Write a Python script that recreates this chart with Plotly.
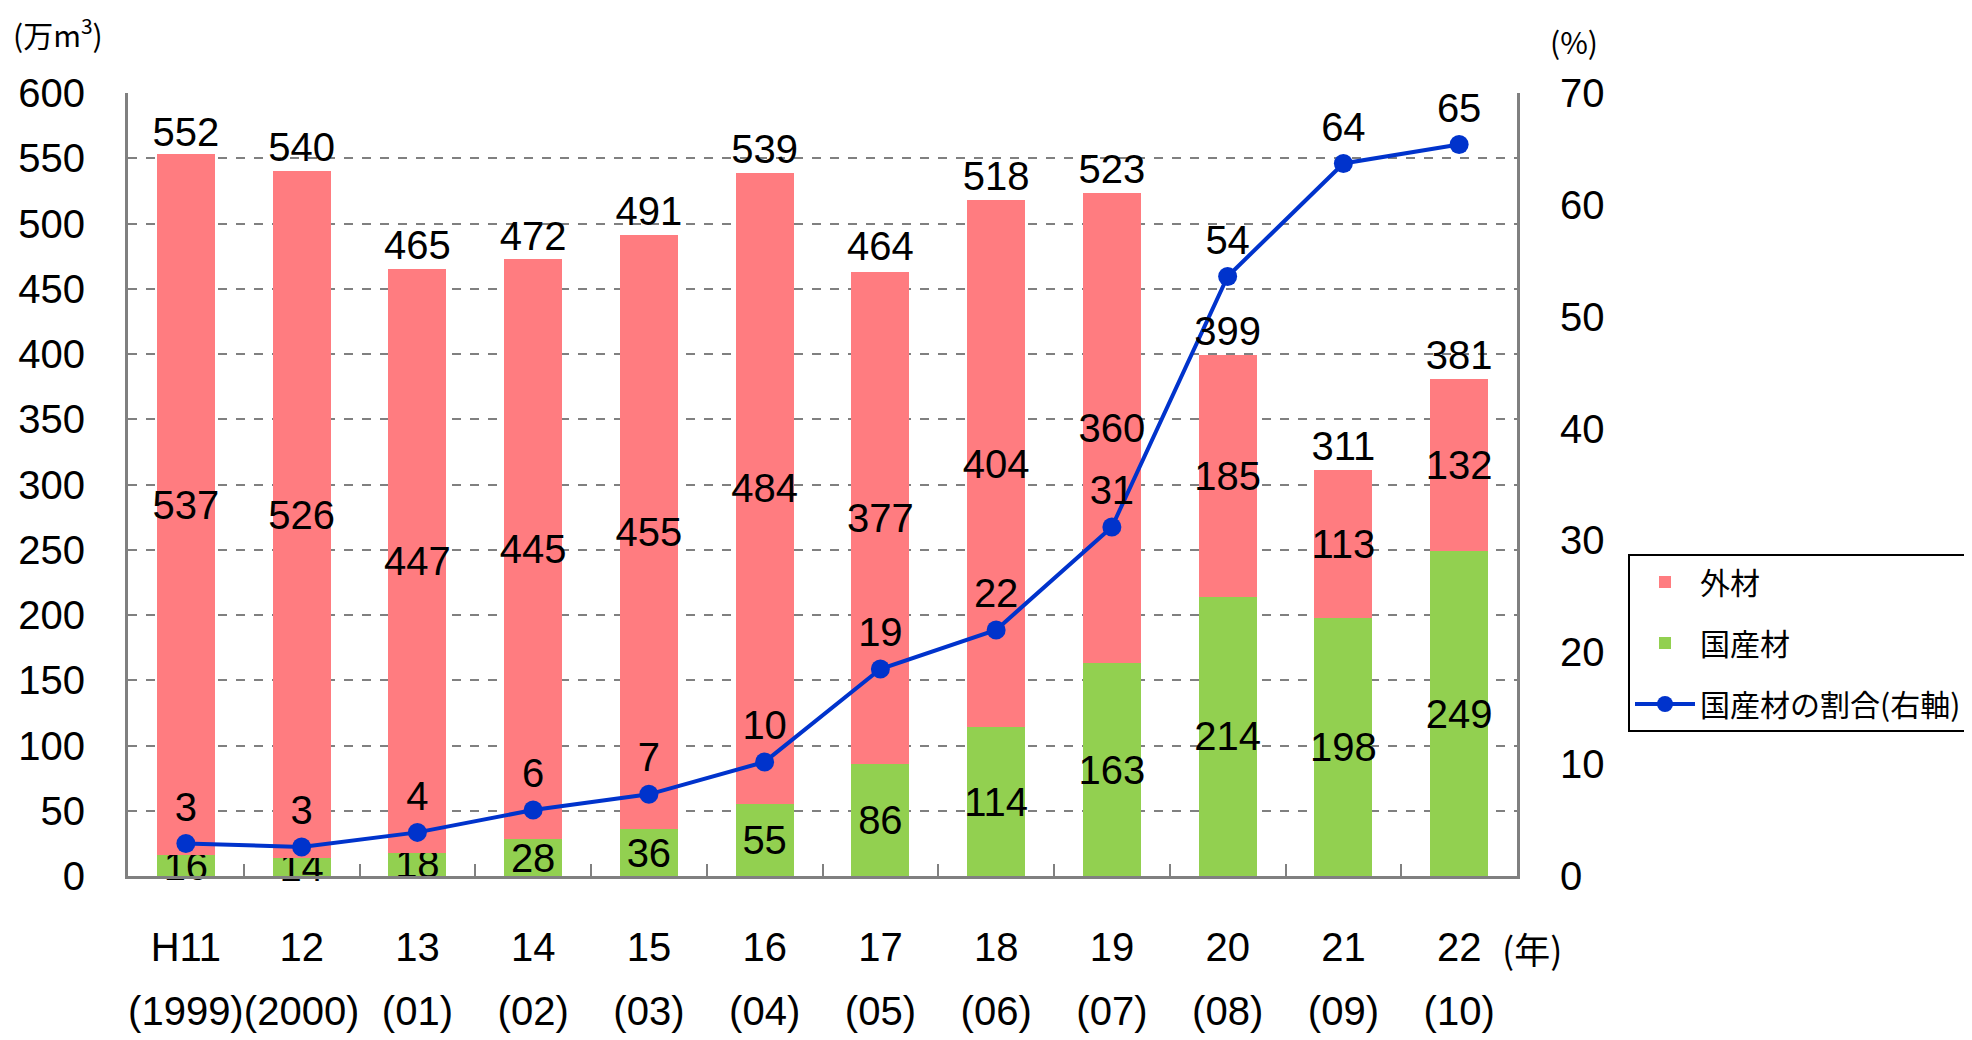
import plotly.graph_objects as go

# ---- data ----
years = ["H11", "12", "13", "14", "15", "16", "17", "18", "19", "20", "21", "22"]
years_west = ["(1999)", "(2000)", "(01)", "(02)", "(03)", "(04)",
              "(05)", "(06)", "(07)", "(08)", "(09)", "(10)"]
domestic = [16, 14, 18, 28, 36, 55, 86, 114, 163, 214, 198, 249]          # 国産材
foreign = [537, 526, 447, 445, 455, 484, 377, 404, 360, 185, 113, 132]    # 外材
totals = [552, 540, 465, 472, 491, 539, 464, 518, 523, 399, 311, 381]
ratio = [2.9, 2.6, 3.9, 5.9, 7.3, 10.2, 18.5, 22.0, 31.2, 53.6, 63.7, 65.4]  # 国産材の割合(%)
ratio_labels = ["3", "3", "4", "6", "7", "10", "19", "22", "31", "54", "64", "65"]

NUM_FONT = "Liberation Sans Narrow, Arial Narrow, Liberation Sans, Arial, sans-serif"
CJK_FONT = "Noto Sans CJK JP, Noto Sans CJK SC, sans-serif"
RED = "#FF7C80"
GREEN = "#92D050"
BLUE = "#0033CC"
GRAY = "#808080"
FS = 40

W, H = 1972, 1040
L, R, T, B = 120, 1509, 85, 868

fig = go.Figure()

fig.add_trace(go.Bar(
    x=years, y=domestic, name="国産材", marker=dict(color=GREEN, line=dict(width=0)),
    text=[str(v) for v in domestic], textposition="inside", insidetextanchor="middle",
    constraintext="none", textangle=0, cliponaxis=False,
    textfont=dict(family=NUM_FONT, size=FS, color="black"),
    legendrank=2, legendgroup="g2", width=0.5,
))
fig.add_trace(go.Bar(
    x=years, y=foreign, name="外材", marker=dict(color=RED, line=dict(width=0)),
    text=[str(v) for v in foreign], textposition="inside", insidetextanchor="middle",
    constraintext="none", textangle=0, cliponaxis=False,
    textfont=dict(family=NUM_FONT, size=FS, color="black"),
    legendrank=1, legendgroup="g1", width=0.5,
))
# total labels above the bars (drawn on the secondary category axis carrying the western years)
fig.add_trace(go.Scatter(
    x=years_west, y=totals, xaxis="x2", mode="text", text=[str(v) for v in totals],
    textposition="top center", showlegend=False, cliponaxis=False,
    textfont=dict(family=NUM_FONT, size=FS, color="black"),
))
fig.add_trace(go.Scatter(
    x=years, y=ratio, yaxis="y2", mode="lines+markers+text", name="国産材の割合(右軸)",
    line=dict(color=BLUE, width=4), marker=dict(color=BLUE, size=19),
    text=ratio_labels, textposition="top center", cliponaxis=False,
    textfont=dict(family=NUM_FONT, size=FS, color="black"),
    legendrank=3, legendgroup="g3",
))

fig.update_layout(
    width=W, height=H,
    margin=dict(l=L, r=W - R, t=T, b=H - B, autoexpand=False),
    barmode="stack", bargap=0.5,
    plot_bgcolor="white", paper_bgcolor="white",
    font=dict(family=NUM_FONT, size=FS, color="black"),
    xaxis=dict(
        type="category", range=[-0.5, len(years) - 0.5],
        showline=True, linecolor=GRAY, linewidth=3,
        ticks="inside", tickson="boundaries", ticklen=12, tickwidth=2, tickcolor=GRAY,
        tickfont=dict(family=NUM_FONT, size=FS, color="black"), tickangle=0,
        ticklabelstandoff=34, showgrid=False,
    ),
    xaxis2=dict(
        overlaying="x", side="bottom", anchor="y", type="category",
        categoryorder="array", categoryarray=years_west,
        range=[-0.5, len(years) - 0.5],
        showline=False, showgrid=False, zeroline=False, ticks="", tickangle=0,
        tickfont=dict(family=NUM_FONT, size=FS, color="black"),
        ticklabelstandoff=108,
    ),
    yaxis=dict(
        range=[0, 600], dtick=50, showline=True, linecolor=GRAY, linewidth=3,
        showgrid=True, gridcolor=GRAY, griddash="dash", gridwidth=2, zeroline=False,
        ticks="", tickfont=dict(family=NUM_FONT, size=FS, color="black"),
        ticklabelstandoff=32,
    ),
    yaxis2=dict(
        range=[0, 70], dtick=10, overlaying="y", side="right", showline=True,
        linecolor=GRAY, linewidth=3, showgrid=False, zeroline=False, ticks="",
        tickfont=dict(family=NUM_FONT, size=FS, color="black"), ticklabelstandoff=32,
    ),
    legend=dict(
        xref="container", yref="container", x=1620 / W, y=1 - 546 / H,
        xanchor="left", yanchor="top", traceorder="grouped", tracegroupgap=19,
        itemwidth=60,
        bordercolor="black", borderwidth=2, bgcolor="white",
        font=dict(family=CJK_FONT, size=30, color="black"),
    ),
    showlegend=True,
)

fig.add_annotation(xref="paper", yref="paper", x=(3 - L) / (R - L), y=1 + 60 / (B - T),
                   text="(万m<sup>3</sup>)", showarrow=False, xanchor="left", yanchor="middle",
                   font=dict(family=CJK_FONT, size=30, color="black"))
fig.add_annotation(xref="paper", yref="paper", x=(1566 - L) / (R - L), y=1 + 52 / (B - T),
                   text="(%)", showarrow=False, xanchor="center", yanchor="middle",
                   font=dict(family=CJK_FONT, size=30, color="black"))
fig.add_annotation(xref="paper", yref="paper", x=(1524 - L) / (R - L), y=-(940 - B) / (B - T),
                   text="(年)", showarrow=False, xanchor="center", yanchor="middle",
                   font=dict(family=CJK_FONT, size=36, color="black"))

fig.write_html("out.html")
